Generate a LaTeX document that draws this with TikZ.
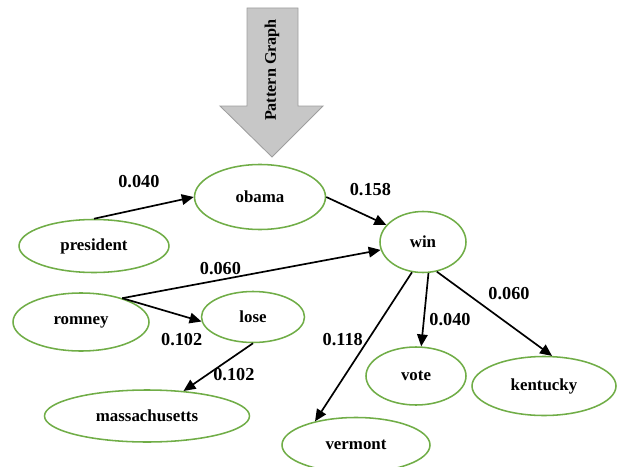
\documentclass[tikz,border=0pt]{standalone}
\usepackage{fontspec}
\setmainfont{Liberation Serif}
\usepackage{tikz}
\usetikzlibrary{arrows.meta,positioning,shapes.geometric}

\definecolor{wordgreen}{HTML}{70AD47}

\begin{document}
\begin{tikzpicture}[>={Triangle[length=8.5pt,width=7.5pt]},
    word/.style={ellipse,draw=wordgreen,line width=1.1pt,inner sep=0pt,
        font=\fontsize{12}{14}\selectfont\bfseries},
    link/.style={->,line width=1.2pt},
    weight/.style={font=\fontsize{13}{15}\selectfont\bfseries}]
    \useasboundingbox (0,0) rectangle (15.525,11.65);

    % big arrow on top
    \filldraw[fill=black!22,draw=black!38,line width=0.6pt]
        (6.175,11.45) -- (7.45,11.45) -- (7.45,9.0) -- (8.075,9.0)
        -- (6.8,7.725) -- (5.5,9.0) -- (6.175,9.0) -- cycle;
    \node[rotate=90,font=\fontsize{11.5}{13}\selectfont\bfseries] (title) at (6.8,9.9) {Pattern Graph};

    \node[word,minimum width=3.275cm,minimum height=1.625cm] (obama) at (6.5,6.725) {obama};
    \node[word,minimum width=3.75cm,minimum height=1.325cm] (president) at (2.35,5.5) {president};
    \node[word,minimum width=2.15cm,minimum height=1.525cm] (win) at (10.575,5.6) {win};
    \node[word,minimum width=3.4cm,minimum height=1.45cm] (romney) at (2.025,3.6) {romney};
    \node[word,minimum width=2.575cm,minimum height=1.275cm] (lose) at (6.325,3.725) {lose};
    \node[word,minimum width=5.125cm,minimum height=1.3cm] (massachusetts) at (3.675,1.25) {massachusetts};
    \node[word,minimum width=3.7cm,minimum height=1.375cm] (vermont) at (8.9,0.525) {vermont};
    \node[word,minimum width=2.5cm,minimum height=1.45cm] (vote) at (10.4,2.25) {vote};
    \node[word,minimum width=3.6cm,minimum height=1.475cm] (kentucky) at (13.6,2.0) {kentucky};

    \draw[link] (president.north) to node[weight,above=4mm,pos=0.45] {0.040} (obama.west);
    \draw[link] (obama.east) to node[weight,above right=1mm and 0mm,pos=0.3] {0.158} (win);
    \draw[link] (romney.30) to node[weight,above,pos=0.38] {0.060} (win);
    \draw[link] (romney.30) to node[weight,below=3mm,pos=0.75] {0.102} (lose.185);
    \draw[link] (lose.south) to node[weight,right,pos=0.65] {0.102} (massachusetts);
    \draw[link] (win.250) to node[weight,left,pos=0.45] {0.118} (vermont.150);
    \draw[link] (win.280) to node[weight,right,pos=0.63] {0.040} (vote.80);
    \draw[link] (win.295) to node[weight,above right,pos=0.4] {0.060} (kentucky.75);
\end{tikzpicture}
\end{document}
